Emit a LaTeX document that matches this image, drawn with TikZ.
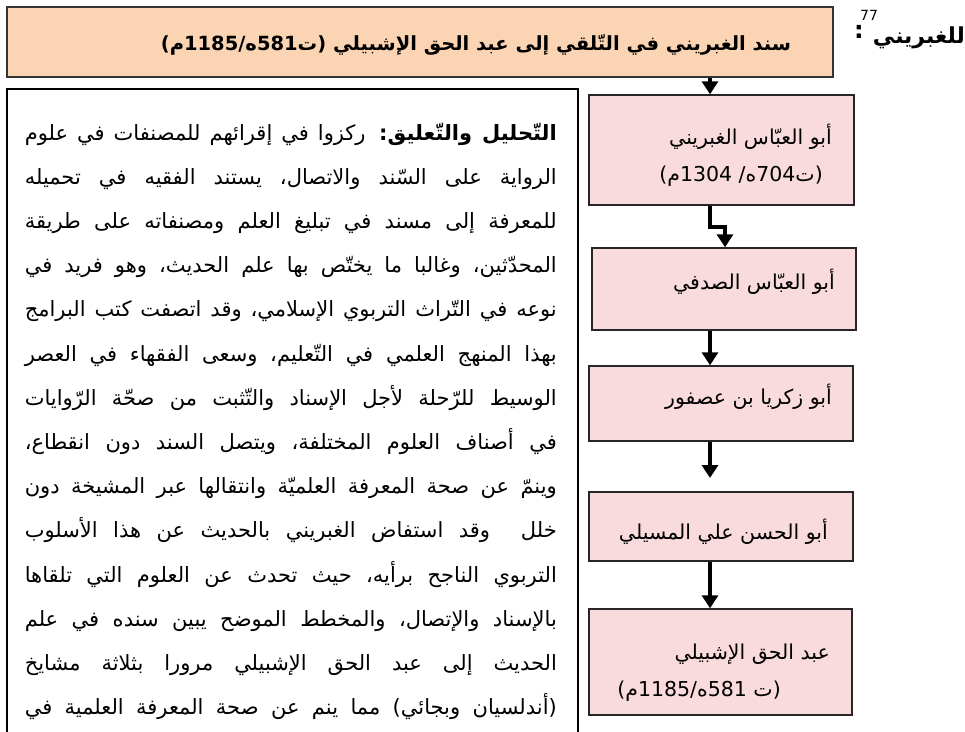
\documentclass[tikz,border=0pt]{standalone}
\usepackage{fontspec}
\newfontfamily\arabicfont[Script=Arabic]{DejaVu Sans}
\TeXXeTstate=1
\usetikzlibrary{arrows.meta}
\definecolor{peach}{HTML}{FBD4B4}
\definecolor{pinkbox}{HTML}{F9DBDD}
\begin{document}
\begin{tikzpicture}[x=1pt,y=-1pt,
  chainbox/.style={draw=black!85,line width=1.4pt,fill=pinkbox,rectangle,inner sep=0pt},
  boxtext/.style={anchor=base east,inner sep=0pt,font=\arabicfont\fontsize{20.5}{24}\selectfont},
  bodyline/.style={anchor=base east,inner sep=0pt,font=\arabicfont\fontsize{21}{24}\selectfont},
  flow/.style={line width=3.6pt,-{Triangle[width=16pt,length=13pt]}}]
\useasboundingbox (0,0) rectangle (965,731);
% top box
\node[draw=black!80,line width=1.6pt,fill=peach,rectangle,inner sep=0pt,minimum width=826pt,minimum height=70pt] (top) at (420,42) {};
\node[anchor=base,inner sep=0pt,font=\arabicfont\bfseries\fontsize{19.5}{22}\selectfont] (title) at (476,50) {\beginR سند الغبريني في التّلقي إلى عبد الحق الإشبيلي (ت581ه/1185م)\endR};
% heading outside
\node[anchor=base east,inner sep=0pt,font=\arabicfont\bfseries\fontsize{22}{24}\selectfont] (head) at (965,43) {\beginR للغبريني\endR};
\node[inner sep=0pt,font=\arabicfont\fontsize{14}{16}\selectfont] (fn) at (869,15) {77};
\node[inner sep=0pt,font=\arabicfont\bfseries\fontsize{24}{26}\selectfont] (colon) at (859,32) {:};
% chain boxes
\node[chainbox,minimum width=265pt,minimum height=110pt] (b1) at (721.5,150) {};
\node[chainbox,minimum width=264pt,minimum height=82pt] (b2) at (724,289) {};
\node[chainbox,minimum width=264pt,minimum height=75pt] (b3) at (721,403.5) {};
\node[chainbox,minimum width=264pt,minimum height=69pt] (b4) at (721,526.5) {};
\node[chainbox,minimum width=263pt,minimum height=106pt] (b5) at (720.5,662) {};
\node[boxtext] (t1a) at (832,144) {\beginR أبو العبّاس الغبريني\endR};
\node[boxtext] (t1b) at (823,181) {\beginR (ت704ه/ 1304م)\endR};
\node[boxtext] (t2) at (835,289) {\beginR أبو العبّاس الصدفي\endR};
\node[boxtext] (t3) at (832,404) {\beginR أبو زكريا بن عصفور\endR};
\node[boxtext] (t4) at (828,539) {\beginR أبو الحسن علي المسيلي\endR};
\node[boxtext] (t5a) at (830,659) {\beginR عبد الحق الإشبيلي\endR};
\node[boxtext] (t5b) at (781,696) {\beginR (ت 581ه/1185م)\endR};
% connectors
\coordinate (ax) at (710,0);
\coordinate (az) at (725,0);
\coordinate (bend1) at (710,227);
\coordinate (bend2) at (725,227);
\coordinate (tip4) at (710,478);
\draw[flow] (ax |- top.south) -- (ax |- b1.north);
\draw[flow] (ax |- b1.south) -- (bend1) -- (bend2) -- (az |- b2.north);
\draw[flow] (ax |- b2.south) -- (ax |- b3.north);
\draw[flow] (ax |- b3.south) -- (tip4);
\draw[flow] (ax |- b4.south) -- (ax |- b5.north);
% text frame
\draw[line width=1.6pt] (7,745) -- (7,89) -- (578,89) -- (578,745);
\node[bodyline] (l1) at (557,140) {\hbox to 532pt{\beginR{\bfseries التّحليل والتّعليق:} ركزوا في إقرائهم للمصنفات في علوم\endR}};
\node[bodyline] (l2) at (557,184.2) {\hbox to 532pt{\beginR الرواية على السّند والاتصال، يستند الفقيه في تحميله\endR}};
\node[bodyline] (l3) at (557,228.4) {\hbox to 532pt{\beginR للمعرفة إلى مسند في تبليغ العلم ومصنفاته على طريقة\endR}};
\node[bodyline] (l4) at (557,272.6) {\hbox to 532pt{\beginR المحدّثين، وغالبا ما يختّص بها علم الحديث، وهو فريد في\endR}};
\node[bodyline] (l5) at (557,316.8) {\hbox to 532pt{\beginR نوعه في التّراث التربوي الإسلامي، وقد اتصفت كتب البرامج\endR}};
\node[bodyline] (l6) at (557,361) {\hbox to 532pt{\beginR بهذا المنهج العلمي في التّعليم، وسعى الفقهاء في العصر\endR}};
\node[bodyline] (l7) at (557,405.2) {\hbox to 532pt{\beginR الوسيط للرّحلة لأجل الإسناد والتّثبت من صحّة الرّوايات\endR}};
\node[bodyline] (l8) at (557,449.4) {\hbox to 532pt{\beginR في أصناف العلوم المختلفة، ويتصل السند دون انقطاع،\endR}};
\node[bodyline] (l9) at (557,493.6) {\hbox to 532pt{\beginR وينمّ عن صحة المعرفة العلميّة وانتقالها عبر المشيخة دون\endR}};
\node[bodyline] (l10) at (557,537.8) {\hbox to 532pt{\beginR خلل\ \ وقد استفاض الغبريني بالحديث عن هذا الأسلوب\endR}};
\node[bodyline] (l11) at (557,582) {\hbox to 532pt{\beginR التربوي الناجح برأيه، حيث تحدث عن العلوم التي تلقاها\endR}};
\node[bodyline] (l12) at (557,626.2) {\hbox to 532pt{\beginR بالإسناد والإتصال، والمخطط الموضح يبين سنده في علم\endR}};
\node[bodyline] (l13) at (557,670.4) {\hbox to 532pt{\beginR الحديث إلى عبد الحق الإشبيلي مرورا بثلاثة مشايخ\endR}};
\node[bodyline] (l14) at (557,714.6) {\hbox to 532pt{\beginR (أندلسيان وبجائي) مما ينم عن صحة المعرفة العلمية في\endR}};
\end{tikzpicture}
\end{document}
